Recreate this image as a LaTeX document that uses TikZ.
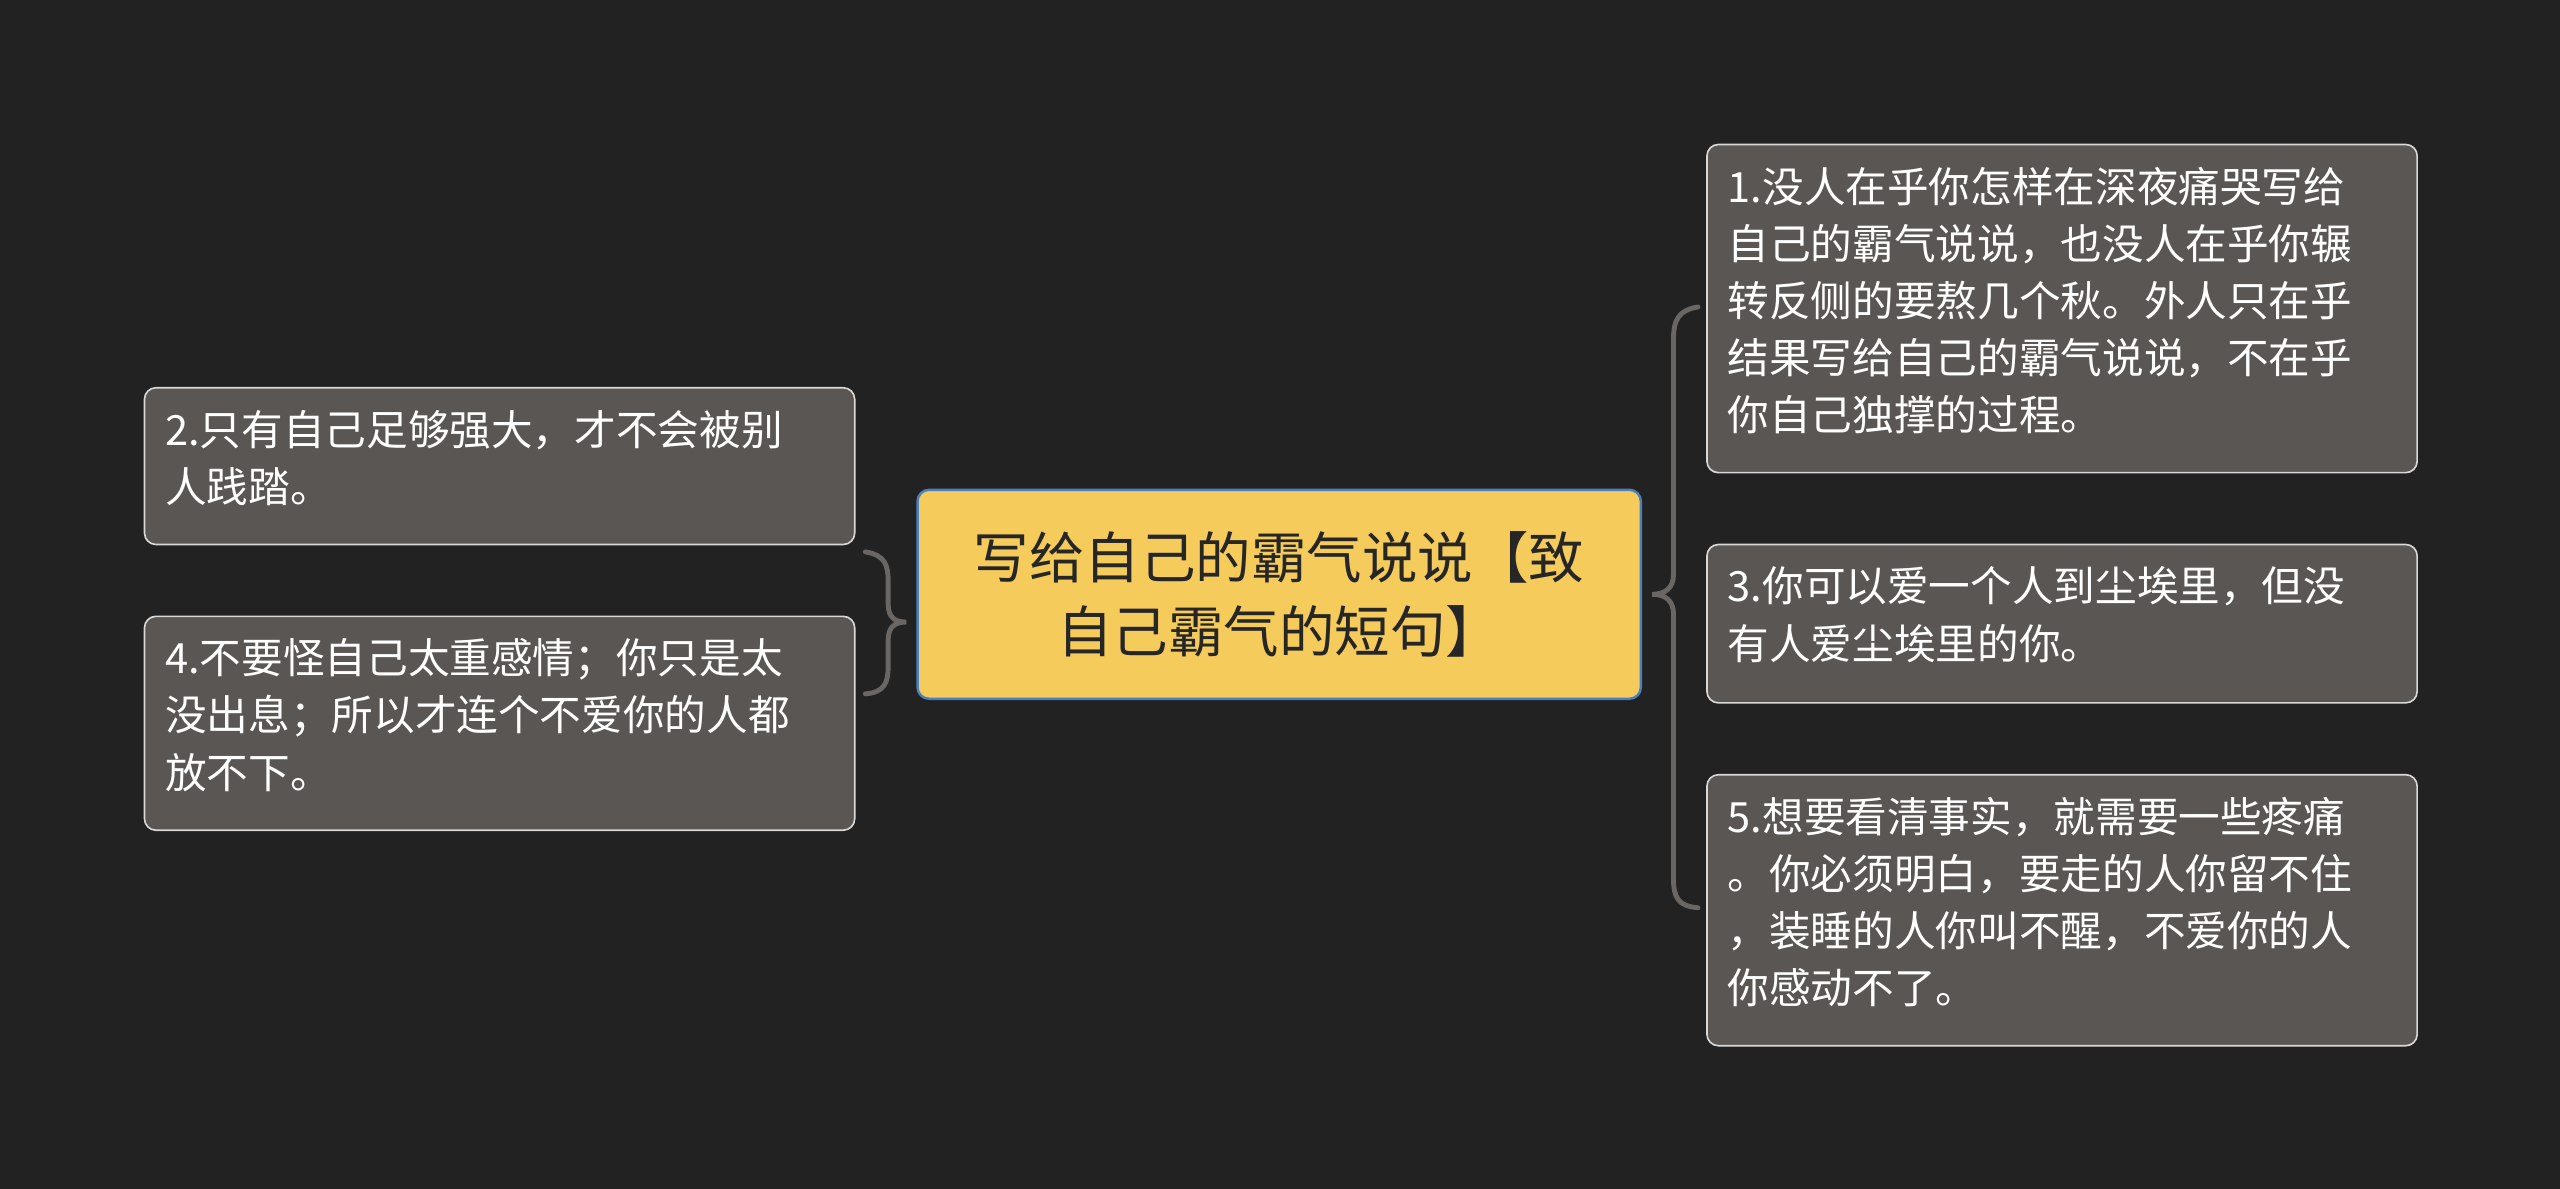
\documentclass[tikz,border=0pt]{standalone}
\usepackage{fontspec}
\newfontfamily\cjk{Noto Sans CJK SC}
\definecolor{bg}{HTML}{222222}
\definecolor{boxfill}{HTML}{5A5653}
\definecolor{boxline}{HTML}{D8D8D8}
\definecolor{cfill}{HTML}{F5CB5C}
\definecolor{cline}{HTML}{4A7FC1}
\definecolor{brace}{HTML}{6A6663}
\begin{document}
\begin{tikzpicture}[x=1pt,y=-1pt,
  leaf/.style={draw=boxline,fill=boxfill,rounded corners=7pt,line width=1pt,inner sep=0pt,anchor=north west},
  txt/.style={anchor=north west,text=white,font=\cjk\fontsize{25.5}{35}\selectfont,align=left,inner sep=0pt},
  root/.style={draw=cline,fill=cfill,rounded corners=7pt,line width=1.5pt,text=black!85,font=\cjk\fontsize{34}{45}\selectfont,align=center,inner sep=0pt},
  br/.style={draw=brace,line width=3pt,line cap=round}]
\fill[bg] (0,0) rectangle (1568,728);
\useasboundingbox (0,0) rectangle (1568,728);
\node[root,minimum width=443pt,minimum height=128pt] (c) at (783.5,364) {写给自己的霸气说说【致\\自己霸气的短句】};
\node[leaf,minimum width=435pt,minimum height=96pt] (l1) at (88,237) {};
\node[txt] (t1) at (101,251) {2.只有自己足够强大，才不会被别\\人践踏。};
\node[leaf,minimum width=435pt,minimum height=131pt] (l2) at (88,377) {};
\node[txt] (t2) at (101,391) {4.不要怪自己太重感情；你只是太\\没出息；所以才连个不爱你的人都\\放不下。};
\node[leaf,minimum width=435pt,minimum height=201pt] (r1) at (1045,88) {};
\node[txt] (t3) at (1058,102) {1.没人在乎你怎样在深夜痛哭写给\\自己的霸气说说，也没人在乎你辗\\转反侧的要熬几个秋。外人只在乎\\结果写给自己的霸气说说，不在乎\\你自己独撑的过程。};
\node[leaf,minimum width=435pt,minimum height=97pt] (r2) at (1045,333) {};
\node[txt] (t4) at (1058,347) {3.你可以爱一个人到尘埃里，但没\\有人爱尘埃里的你。};
\node[leaf,minimum width=435pt,minimum height=166pt] (r3) at (1045,474) {};
\node[txt] (t5) at (1058,488) {5.想要看清事实，就需要一些疼痛\\。你必须明白，要走的人你留不住\\，装睡的人你叫不醒，不爱你的人\\你感动不了。};
\coordinate (lb) at (530,338);
\draw[br] (lb) .. controls (542,340) and (544,346) .. (544,356) -- (544,370) .. controls (544,378) and (548,381) .. (555,381) .. controls (548,381) and (544,384) .. (544,392) -- (544,408) .. controls (544,418) and (542,424) .. (530,425);
\coordinate (rb) at (1040,188);
\draw[br] (rb) .. controls (1028,190) and (1025,196) .. (1025,208) -- (1025,352) .. controls (1025,360) and (1020,364) .. (1012,364) .. controls (1020,364) and (1025,368) .. (1025,376) -- (1025,538) .. controls (1025,550) and (1028,555) .. (1040,556);
\end{tikzpicture}
\end{document}
